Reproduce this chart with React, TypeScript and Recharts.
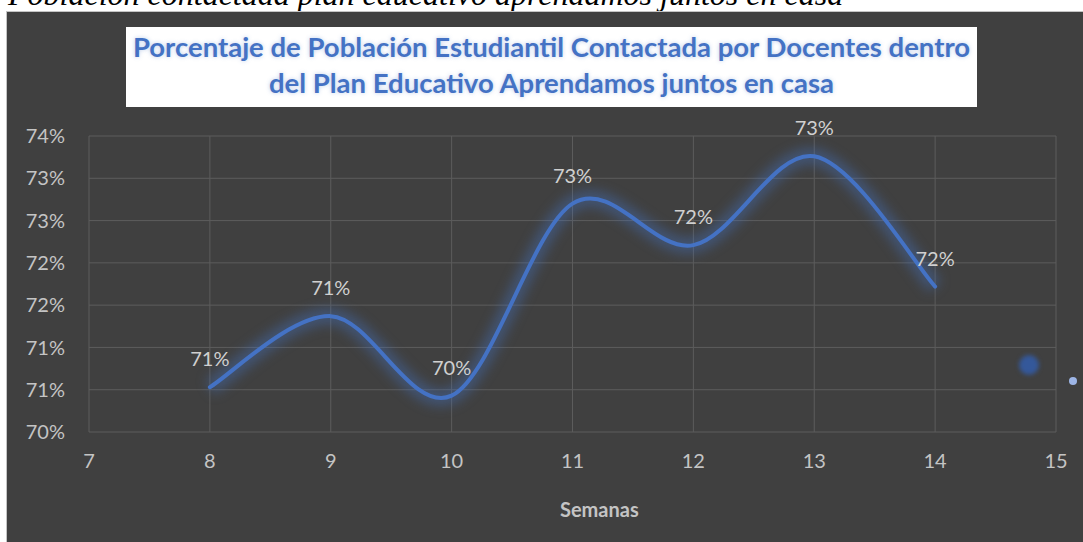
import { LineChart, Line, XAxis, YAxis, CartesianGrid, LabelList } from 'recharts';

// semanas y porcentaje de estudiantes contactados
const weeks = [8, 9, 10, 11, 12, 13, 14];
const contacted = [70.53, 71.37, 70.43, 72.7, 72.21, 73.26, 71.72];

const xTicks = [7, 8, 9, 10, 11, 12, 13, 14, 15];
const yTicks = [70, 70.5, 71, 71.5, 72, 72.5, 73, 73.5];

const caption = 'Población contactada plan educativo aprendamos juntos en casa';
const titleLines = [
    'Porcentaje de Población Estudiantil Contactada por Docentes dentro',
    'del Plan Educativo Aprendamos juntos en casa',
];
const xTitle = 'Semanas';

const data = weeks.map((w, i) => ({ week: w, value: contacted[i] }));

const pct = (v: number) => `${Math.round(v)}%`;

// suavizado tipo Excel (bezier con tangentes catmull-rom /6)
const excelSmooth = (context: any) => {
    let pts: number[][] = [];
    return {
        areaStart() {},
        areaEnd() {},
        lineStart() {
            pts = [];
        },
        point(x: number, y: number) {
            pts.push([+x, +y]);
        },
        lineEnd() {
            if (!pts.length) return;
            context.moveTo(pts[0][0], pts[0][1]);
            for (let i = 0; i < pts.length - 1; i++) {
                const p0 = pts[i - 1] || pts[i];
                const p1 = pts[i];
                const p2 = pts[i + 1];
                const p3 = pts[i + 2] || p2;
                context.bezierCurveTo(
                    p1[0] + (p2[0] - p0[0]) / 6,
                    p1[1] + (p2[1] - p0[1]) / 6,
                    p2[0] - (p3[0] - p1[0]) / 6,
                    p2[1] - (p3[1] - p1[1]) / 6,
                    p2[0],
                    p2[1]
                );
            }
        },
    };
};

const tickStyle = { fill: '#c4c4c4', fontSize: 20, fontFamily: 'Lato' };

export default function App() {
    return (
        <div style={{ position: 'fixed', left: 0, top: 0, width: 1083, height: 542, background: '#fff', overflow: 'hidden' }}>
            <style>{`.glow path { filter: blur(6px); }`}</style>

            <div
                style={{
                    position: 'absolute',
                    left: 8,
                    top: -22,
                    fontFamily: '"Liberation Serif"',
                    fontStyle: 'italic',
                    fontSize: 32,
                    lineHeight: 1,
                    whiteSpace: 'nowrap',
                    color: '#000',
                }}
            >
                {caption}
            </div>

            <div
                style={{
                    position: 'absolute',
                    left: 6,
                    top: 11,
                    width: 1080,
                    height: 540,
                    background: '#404040',
                    border: '1px solid #c4c4c4',
                }}
            />

            {/* Título */}
            <div
                style={{
                    position: 'absolute',
                    left: 126,
                    top: 27,
                    width: 851,
                    height: 80,
                    background: '#fff',
                    paddingTop: 2,
                    boxSizing: 'border-box',
                    textAlign: 'center',
                    fontFamily: 'Lato',
                    fontWeight: 700,
                    fontSize: 27.5,
                    lineHeight: '36px',
                    color: '#4472C4',
                    textShadow: '0 0 4px rgba(68,114,196,0.35)',
                    whiteSpace: 'nowrap',
                }}
            >
                {titleLines.map((t) => (
                    <div key={t}>{t}</div>
                ))}
            </div>

            <div style={{ position: 'absolute', left: 0, top: 0 }}>
                <LineChart width={1083} height={542} data={data} margin={{ top: 136, right: 27, bottom: 0, left: 0 }}>
                    <CartesianGrid stroke="#5c5c5c" strokeWidth={1} />
                    <XAxis
                        dataKey="week"
                        type="number"
                        domain={[7, 15]}
                        ticks={xTicks}
                        height={110}
                        axisLine={false}
                        tickLine={false}
                        tickSize={0}
                        tickMargin={22}
                        tick={tickStyle}
                    />
                    <YAxis
                        type="number"
                        domain={[70, 73.5]}
                        ticks={yTicks}
                        width={89}
                        axisLine={false}
                        tickLine={false}
                        tickSize={0}
                        tickMargin={24}
                        tickFormatter={pct}
                        tick={tickStyle}
                    />
                    {/* brillo alrededor de la línea */}
                    <Line
                        className="glow"
                        dataKey="value"
                        type={excelSmooth as any}
                        stroke="#4472C4"
                        strokeOpacity={0.4}
                        strokeWidth={16}
                        dot={false}
                        activeDot={false}
                        isAnimationActive={false}
                    />
                    <Line
                        dataKey="value"
                        type={excelSmooth as any}
                        stroke="#4472C4"
                        strokeWidth={4}
                        strokeLinecap="round"
                        dot={false}
                        activeDot={false}
                        isAnimationActive={false}
                    >
                        <LabelList
                            dataKey="value"
                            position="top"
                            offset={21}
                            formatter={(v: any) => pct(Number(v))}
                            style={{ fill: '#d0d0d0', fontSize: 20, fontFamily: 'Lato' }}
                        />
                    </Line>
                </LineChart>
            </div>

            <div
                style={{
                    position: 'absolute',
                    left: 560,
                    top: 497,
                    width: 78,
                    textAlign: 'center',
                    fontFamily: 'Lato',
                    fontWeight: 700,
                    fontSize: 20,
                    color: '#c4c4c4',
                }}
            >
                {xTitle}
            </div>

            {/* marcas sueltas a la derecha */}
            <div
                style={{
                    position: 'absolute',
                    left: 1019,
                    top: 355,
                    width: 20,
                    height: 20,
                    borderRadius: '50%',
                    background: '#34589a',
                    filter: 'blur(2px)',
                }}
            />
            <div
                style={{
                    position: 'absolute',
                    left: 1069,
                    top: 377,
                    width: 8,
                    height: 8,
                    borderRadius: '50%',
                    background: '#9db5e6',
                }}
            />
        </div>
    );
}
